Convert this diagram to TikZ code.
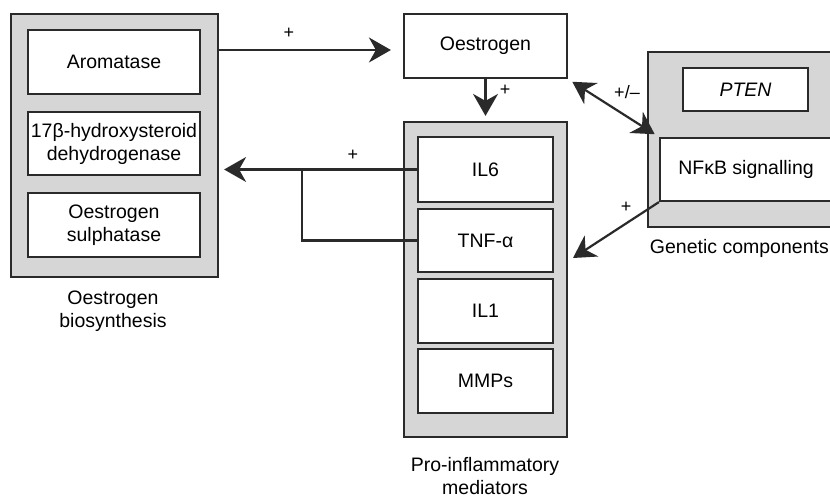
\documentclass[tikz,border=0pt]{standalone}
\usepackage{fontspec}
\setmainfont{Liberation Sans}
\usetikzlibrary{arrows.meta}
\definecolor{boxline}{HTML}{2A2A2A}
\definecolor{groupgray}{HTML}{D6D6D6}
\begin{document}
\begin{tikzpicture}[
        x=1pt, y=-1pt,
        every node/.style={align=center, font=\fontsize{19.5}{23}\selectfont, inner sep=0pt},
        group/.style={draw=boxline, line width=2.2pt, fill=groupgray},
        item/.style={draw=boxline, line width=2.2pt, fill=white},
        link/.style={draw=boxline, line width=2.2pt, -{Stealth[length=22pt, width=25pt, inset=7pt]}},
        sign/.style={font=\fontsize{18}{20}\selectfont}
    ]
        \useasboundingbox (0,0) rectangle (830,497);

        % groups
        \node[group, minimum width=207pt, minimum height=263pt] (synth) at (114.5,145.5) {};
        \node[group, minimum width=163pt, minimum height=315pt] (mediators) at (485.5,279.5) {};
        \node[group, minimum width=188pt, minimum height=175pt] (genetic) at (742,139.5) {};

        % oestrogen biosynthesis
        \node[item, minimum width=172pt, minimum height=64pt] (aromatase) at (114,62) {Aromatase};
        \node[item, minimum width=172pt, minimum height=63pt] (hsd) at (114,143.5) {17β-hydroxysteroid\\dehydrogenase};
        \node[item, minimum width=172pt, minimum height=64pt] (sulph) at (114,225) {Oestrogen\\sulphatase};

        \node[item, minimum width=163pt, minimum height=64pt] (oestrogen) at (485.5,46) {Oestrogen};

        % pro-inflammatory mediators
        \node[item, minimum width=135pt, minimum height=65pt] (il6) at (485.5,169.5) {IL6};
        \node[item, minimum width=135pt, minimum height=63pt] (tnf) at (485.5,240.5) {TNF-α};
        \node[item, minimum width=135pt, minimum height=64pt] (il1) at (485.5,311) {IL1};
        \node[item, minimum width=135pt, minimum height=64pt] (mmps) at (485.5,381) {MMPs};

        % genetic components
        \node[item, minimum width=125pt, minimum height=43pt] (pten) at (745.5,89.5) {\itshape PTEN};
        \node[item, minimum width=172pt, minimum height=63pt] (nfkb) at (746,169.5) {NFκB signalling};

        % captions
        \node (synthlabel) at (113,311) {Oestrogen\\biosynthesis};
        \node (medlabel) at (485,476) {Pro-inflammatory\\mediators};
        \node[anchor=east] (genlabel) at (829,248) {Genetic components};

        % connectors
        \coordinate (branch) at (302,170);
        \coordinate (medin) at (573,258);
        \draw[link, shorten >=12pt] (synth.east |- 0,50) -- (oestrogen.west |- 0,50);
        \draw[link, shorten >=5pt] (oestrogen.south) -- (mediators.north);
        \draw[link, shorten >=5pt] (il6.west) -- (synth.east |- il6.west);
        \draw[draw=boxline, line width=2.2pt] (branch) |- (tnf.west);
        \draw[link, {Stealth[length=22pt, width=25pt, inset=7pt]}-{Stealth[length=22pt, width=25pt, inset=7pt]}, shorten <=5pt, shorten >=5pt] (oestrogen.south east) -- (nfkb.north west);
        \draw[link] (nfkb.south west) -- (medin);

        % signs
        \node[sign] (plusa) at (289,33) {+};
        \node[sign] (plusb) at (505,90) {+};
        \node[sign] (plusc) at (353,155) {+};
        \node[sign] (plusd) at (627,92) {+/–};
        \node[sign] (pluse) at (626,207) {+};
    \end{tikzpicture}
\end{document}
